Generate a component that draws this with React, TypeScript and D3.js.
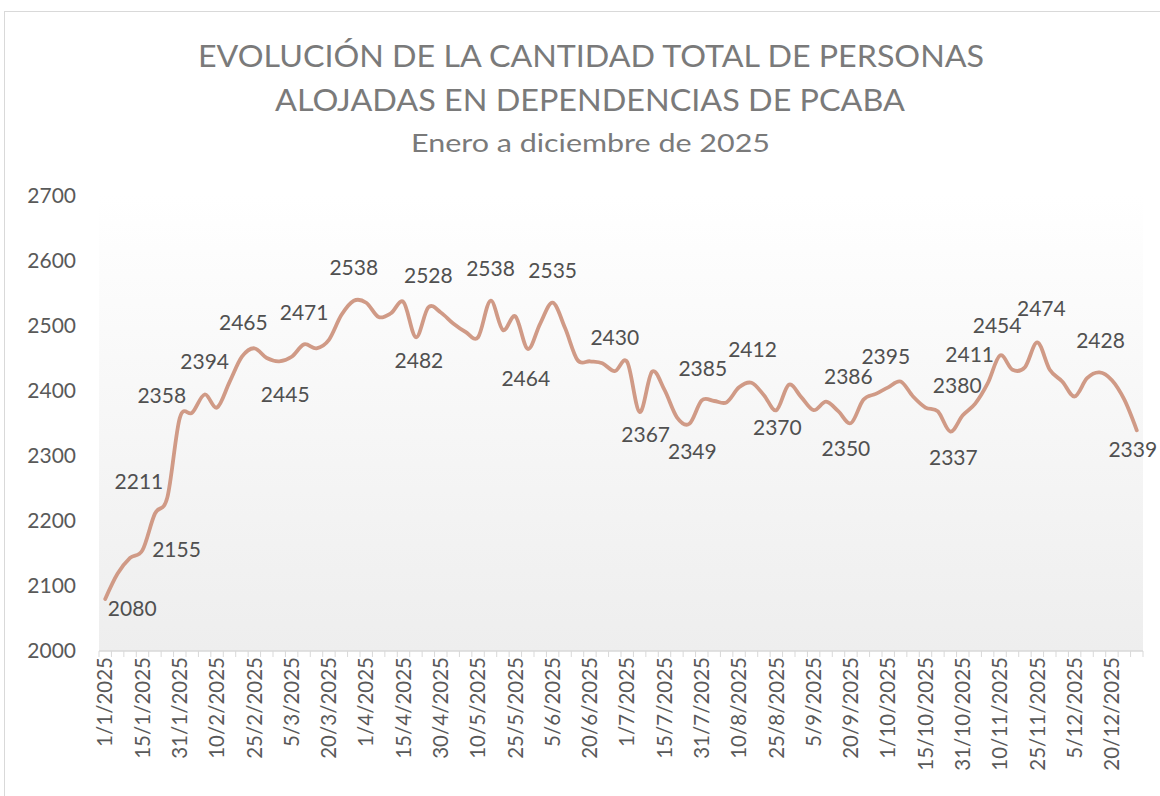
import React from "react";
import * as d3 from "d3";

const titleLines = [
  "EVOLUCIÓN DE LA CANTIDAD TOTAL DE PERSONAS",
  "ALOJADAS EN DEPENDENCIAS DE PCABA",
];
const subtitle = "Enero a diciembre de 2025";

const dates = [
  "1/1/2025", "5/1/2025", "10/1/2025", "15/1/2025", "20/1/2025", "25/1/2025", "31/1/2025",
  "1/2/2025", "5/2/2025", "10/2/2025", "15/2/2025", "20/2/2025", "25/2/2025", "28/2/2025",
  "1/3/2025", "5/3/2025", "10/3/2025", "15/3/2025", "20/3/2025", "25/3/2025", "31/3/2025",
  "1/4/2025", "5/4/2025", "10/4/2025", "15/4/2025", "20/4/2025", "25/4/2025", "30/4/2025",
  "1/5/2025", "5/5/2025", "10/5/2025", "15/5/2025", "20/5/2025", "25/5/2025", "31/5/2025",
  "1/6/2025", "5/6/2025", "10/6/2025", "15/6/2025", "20/6/2025", "25/6/2025", "30/6/2025",
  "1/7/2025", "5/7/2025", "10/7/2025", "15/7/2025", "20/7/2025", "25/7/2025", "31/7/2025",
  "1/8/2025", "5/8/2025", "10/8/2025", "15/8/2025", "20/8/2025", "25/8/2025", "31/8/2025",
  "1/9/2025", "5/9/2025", "10/9/2025", "15/9/2025", "20/9/2025", "25/9/2025", "30/9/2025",
  "1/10/2025", "5/10/2025", "10/10/2025", "15/10/2025", "20/10/2025", "25/10/2025", "31/10/2025",
  "1/11/2025", "5/11/2025", "10/11/2025", "15/11/2025", "20/11/2025", "25/11/2025", "30/11/2025",
  "1/12/2025", "5/12/2025", "10/12/2025", "15/12/2025", "20/12/2025", "25/12/2025", "31/12/2025",
];

const personas = [
  2080, 2119, 2143, 2155, 2211, 2236, 2358,
  2366, 2394, 2374, 2413, 2452, 2465, 2450,
  2445, 2452, 2471, 2465, 2478, 2516, 2538,
  2535, 2513, 2519, 2536, 2482, 2528, 2520,
  2503, 2490, 2482, 2538, 2493, 2514, 2464,
  2503, 2535, 2496, 2447, 2445, 2442, 2430,
  2444, 2367, 2429, 2401, 2359, 2349, 2385,
  2384, 2382, 2405, 2412, 2393, 2370, 2409,
  2390, 2370, 2383, 2368, 2350, 2386, 2395,
  2405, 2414, 2391, 2374, 2368, 2337, 2362,
  2380, 2411, 2454, 2432, 2436, 2474, 2432,
  2414, 2391, 2419, 2428, 2416, 2386, 2339,
];

const yTicks = [2000, 2100, 2200, 2300, 2400, 2500, 2600, 2700];

// which points carry a value label, and the label's offset from its point
const labeledPoints = [
  { i: 0, dx: 27, dy: 10 }, { i: 3, dx: 34, dy: 0 }, { i: 4, dx: -16, dy: -32 },
  { i: 6, dx: -18, dy: -22 }, { i: 8, dx: 0, dy: -33 }, { i: 12, dx: -11, dy: -26 },
  { i: 14, dx: 6, dy: 33 }, { i: 16, dx: 0, dy: -32 }, { i: 20, dx: 0, dy: -33 },
  { i: 25, dx: 3, dy: 23 }, { i: 26, dx: 0, dy: -32 }, { i: 31, dx: 0, dy: -32 },
  { i: 34, dx: -2, dy: 30 }, { i: 36, dx: 0, dy: -32 }, { i: 41, dx: 0, dy: -33 },
  { i: 43, dx: 6, dy: 23 }, { i: 47, dx: 3, dy: 28 }, { i: 48, dx: 1, dy: -32 },
  { i: 52, dx: 1, dy: -33 }, { i: 54, dx: 1, dy: 18 }, { i: 60, dx: -5, dy: 25 },
  { i: 61, dx: -15, dy: -23 }, { i: 62, dx: 10, dy: -37 }, { i: 68, dx: 3, dy: 26 },
  { i: 70, dx: -18, dy: -18 }, { i: 71, dx: -18, dy: -29 }, { i: 72, dx: -3, dy: -30 },
  { i: 75, dx: 4, dy: -34 }, { i: 80, dx: 1, dy: -32 }, { i: 83, dx: -4, dy: 19 },
];

const W = 1160;
const H = 796;
const plot = { left: 99, right: 1143, top: 195.3, bottom: 651 };
const FONT = "Lato, 'Open Sans', sans-serif";

export default function App() {
  const x = d3
    .scaleBand<number>()
    .domain(d3.range(dates.length))
    .range([plot.left, plot.right])
    .padding(0);
  const bw = x.bandwidth();
  const cx = (i: number) => (x(i) as number) + bw / 2;
  const y = d3.scaleLinear().domain([2000, 2700]).range([plot.bottom, plot.top]);

  const line = d3
    .line<number>()
    .x((_, i) => cx(i))
    .y((d) => y(d))
    .curve(d3.curveCardinal.tension(0));

  const tickXs = d3.range(dates.length + 1).map((i) =>
    i < dates.length ? (x(i) as number) : plot.right
  );

  return (
    <svg
      width={W}
      height={H}
      style={{ position: "absolute", left: 0, top: 0, display: "block" }}
      fontFamily={FONT}
    >
      <defs>
        <linearGradient id="bg" x1="0" y1="0" x2="0" y2="1">
          <stop offset="0" stopColor="#ffffff" />
          <stop offset="1" stopColor="#eeeeee" />
        </linearGradient>
      </defs>
      <rect x={0} y={0} width={W} height={H} fill="#ffffff" />
      <rect x={4.5} y={11.5} width={W} height={H} fill="none" stroke="#d9d9d9" strokeWidth={1} />

      <rect
        x={plot.left}
        y={plot.top}
        width={plot.right - plot.left}
        height={plot.bottom - plot.top}
        fill="url(#bg)"
      />

      {/* titles */}
      <text x={591} y={66.7} textAnchor="middle" fontSize={31} fill="#7a7a7a" textLength={786} lengthAdjust="spacingAndGlyphs">
        {titleLines[0]}
      </text>
      <text x={590} y={111} textAnchor="middle" fontSize={31} fill="#7a7a7a" textLength={630} lengthAdjust="spacingAndGlyphs">
        {titleLines[1]}
      </text>
      <text x={590.5} y={152.3} textAnchor="middle" fontSize={24.5} fill="#7a7a7a" textLength={359} lengthAdjust="spacingAndGlyphs">
        {subtitle}
      </text>

      {/* y tick labels */}
      {yTicks.map((t) => (
        <text key={t} x={76} y={y(t)} dy="0.35em" textAnchor="end" fontSize={21} fill="#595959">
          {t}
        </text>
      ))}

      {/* x axis */}
      <line x1={plot.left} x2={plot.right} y1={plot.bottom} y2={plot.bottom} stroke="#d9d9d9" strokeWidth={1.5} />
      {tickXs.map((tx, k) => (
        <line key={k} x1={tx} x2={tx} y1={plot.bottom} y2={plot.bottom + 6} stroke="#d9d9d9" strokeWidth={1} />
      ))}
      {dates.map((d, i) =>
        i % 3 === 0 ? (
          <text
            key={d}
            transform={`translate(${cx(i)},${plot.bottom + 6}) rotate(-90)`}
            dy="0.35em"
            textAnchor="end"
            fontSize={20.5}
            fill="#595959"
          >
            {d}
          </text>
        ) : null
      )}

      {/* line */}
      <path d={line(personas) || ""} fill="none" stroke="#d09a86" strokeWidth={3.8} strokeLinejoin="round" strokeLinecap="round" />

      {/* data labels */}
      {labeledPoints.map((p) => (
        <text
          key={p.i}
          x={cx(p.i) + p.dx}
          y={y(personas[p.i]) + p.dy}
          dy="0.35em"
          textAnchor="middle"
          fontSize={21}
          fill="#505050"
        >
          {personas[p.i]}
        </text>
      ))}
    </svg>
  );
}
